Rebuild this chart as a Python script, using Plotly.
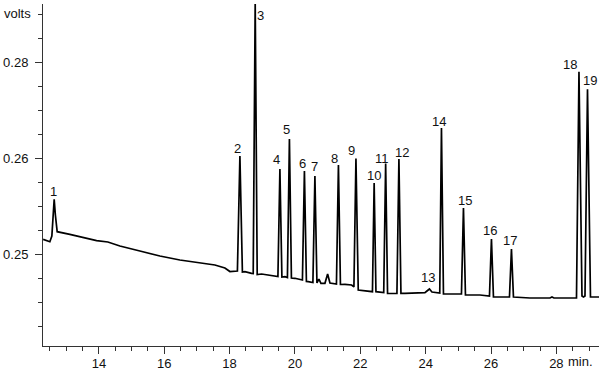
import plotly.graph_objects as go

# Chromatogram trace (time in min, signal in volts)
trace_time = [
    12.295, 12.408, 12.500, 12.561, 12.632, 12.669, 12.724, 13.112, 13.519, 13.930,
    14.275, 14.643, 15.255, 15.867, 16.479, 17.092, 17.551, 17.857, 18.010, 18.239,
    18.316, 18.392, 18.469, 18.674, 18.723, 18.784, 18.845, 18.980, 19.387, 19.479,
    19.540, 19.601, 19.693, 19.770, 19.831, 19.892, 19.999, 20.204, 20.229, 20.290,
    20.351, 20.406, 20.550, 20.611, 20.673, 20.734, 20.795, 20.918, 21.000, 21.071,
    21.193, 21.270, 21.331, 21.392, 21.530, 21.735, 21.805, 21.867, 21.937, 22.243,
    22.372, 22.424, 22.479, 22.717, 22.776, 22.834, 23.121, 23.182, 23.244, 23.366,
    23.979, 24.040, 24.116, 24.193, 24.346, 24.432, 24.484, 24.545, 24.897, 25.096,
    25.157, 25.218, 25.662, 25.953, 26.014, 26.075, 26.427, 26.565, 26.626, 26.687,
    27.192, 27.805, 27.866, 27.927, 28.570, 28.616, 28.692, 28.784, 28.830, 28.876,
    28.953, 29.044, 29.305,
]
trace_volts = [
    0.24306, 0.24271, 0.24256, 0.24375, 0.25140, 0.24813, 0.24465, 0.24410, 0.24348, 0.24277,
    0.24250, 0.24167, 0.24063, 0.23958, 0.23875, 0.23813, 0.23771, 0.23708, 0.23635, 0.23646,
    0.26042, 0.23625, 0.23631, 0.23598, 0.23594, 0.29250, 0.23573, 0.23583, 0.23542, 0.23531,
    0.25771, 0.23521, 0.23527, 0.23510, 0.26396, 0.23500, 0.23494, 0.23473, 0.23458, 0.25729,
    0.23427, 0.23423, 0.23406, 0.25625, 0.23396, 0.23479, 0.23390, 0.23390, 0.23583, 0.23396,
    0.23375, 0.23375, 0.25854, 0.23365, 0.23369, 0.23354, 0.23313, 0.25990, 0.23250, 0.23215,
    0.23215, 0.25479, 0.23215, 0.23198, 0.25885, 0.23177, 0.23181, 0.25979, 0.23181, 0.23181,
    0.23194, 0.23229, 0.23271, 0.23208, 0.23188, 0.23188, 0.26625, 0.23167, 0.23167, 0.23167,
    0.24958, 0.23146, 0.23146, 0.23125, 0.24313, 0.23104, 0.23104, 0.23104, 0.24104, 0.23104,
    0.23083, 0.23083, 0.23104, 0.23083, 0.23083, 0.23083, 0.27798, 0.23125, 0.23104, 0.23125,
    0.27431, 0.23104, 0.23104,
]

# Peak labels and apex positions
peak_labels = [str(i) for i in range(1, 20)]
peak_time = [12.632, 18.316, 18.784, 19.540, 19.831, 20.290, 20.611, 21.331, 21.867, 22.424,
             22.776, 23.182, 24.116, 24.484, 25.157, 26.014, 26.626, 28.692, 28.953]
peak_volts = [0.25140, 0.26042, 0.29250, 0.25771, 0.26396, 0.25729, 0.25625, 0.25854, 0.25990,
              0.25479, 0.25885, 0.25979, 0.23271, 0.26625, 0.24958, 0.24313, 0.24104, 0.27798,
              0.27431]

# Axis ticks
x_tick_vals = [14, 16, 18, 20, 22, 24, 26, 28]
x_tick_text = ["14", "16", "18", "20", "22", "24", "26", "28"]
y_tick_vals = [0.24, 0.26, 0.28]
y_tick_text = ["0.25", "0.26", "0.28"]

# label pixel offsets (style only)
label_dx = [-1, -2, 5, -3, -3, -2, 0, -3.5, -4, 0, -4, 2.7, -1.5, -2, 2, -1, -1, -9, 2.5]
label_dy = [8, 7, -11, 9, 9.5, 7.5, 10, 7, 7.5, 8, 5.5, 7, 11, 7, 7.5, 8, 8.5, 7.5, 8.5]

FONT = "Arial, 'Liberation Sans', sans-serif"
INK = "#111111"

fig = go.Figure()
fig.add_trace(go.Scatter(
    x=trace_time, y=trace_volts, mode="lines",
    line=dict(color="#000000", width=1.7),
    hoverinfo="skip",
))

for lab, t, v, dx, dy in zip(peak_labels, peak_time, peak_volts, label_dx, label_dy):
    fig.add_annotation(
        x=t, y=min(v, 0.29208), xref="x", yref="y", text=lab, showarrow=False,
        xanchor="center", yanchor="middle", xshift=dx, yshift=dy,
        font=dict(family=FONT, size=13, color=INK),
    )

fig.add_annotation(
    x=0, y=1, xref="paper", yref="paper", text="volts", showarrow=False,
    xanchor="right", yanchor="middle", xshift=-10, yshift=-9,
    font=dict(family=FONT, size=13, color=INK),
)
fig.add_annotation(
    x=28, y=0, xref="x", yref="paper", text="min.", showarrow=False,
    xanchor="left", yanchor="middle", xshift=10, yshift=-15,
    font=dict(family=FONT, size=13, color=INK),
)

fig.update_layout(
    width=600, height=374,
    margin=dict(l=43, r=1, t=4, b=28),
    plot_bgcolor="white", paper_bgcolor="white",
    showlegend=False,
    font=dict(family=FONT, size=13, color=INK),
)
fig.update_xaxes(
    range=[12.29, 29.305],
    tickmode="array", tickvals=x_tick_vals, ticktext=x_tick_text,
    showline=True, linecolor="#333333", linewidth=1,
    ticks="outside", ticklen=7, tickwidth=1, tickcolor="#333333",
    minor=dict(dtick=0.5, tick0=0, ticks="outside", ticklen=4, tickwidth=1, tickcolor="#333333", showgrid=False),
    showgrid=False, zeroline=False,
    ticklabelstandoff=-2,
    tickfont=dict(family=FONT, size=13, color=INK),
)
fig.update_yaxes(
    range=[0.220833, 0.292083],
    tickmode="array", tickvals=y_tick_vals, ticktext=y_tick_text,
    showline=True, linecolor="#333333", linewidth=1,
    ticks="outside", ticklen=7, tickwidth=1, tickcolor="#333333",
    minor=dict(dtick=0.005, tick0=0, ticks="outside", ticklen=4, tickwidth=1, tickcolor="#333333", showgrid=False),
    showgrid=False, zeroline=False,
    ticklabelstandoff=4,
    tickfont=dict(family=FONT, size=13, color=INK),
)

fig.write_html(
    "out.html",
    config={"displayModeBar": False},
    post_script="document.body.style.margin='0';document.body.style.padding='0';document.body.style.overflow='hidden';",
)
